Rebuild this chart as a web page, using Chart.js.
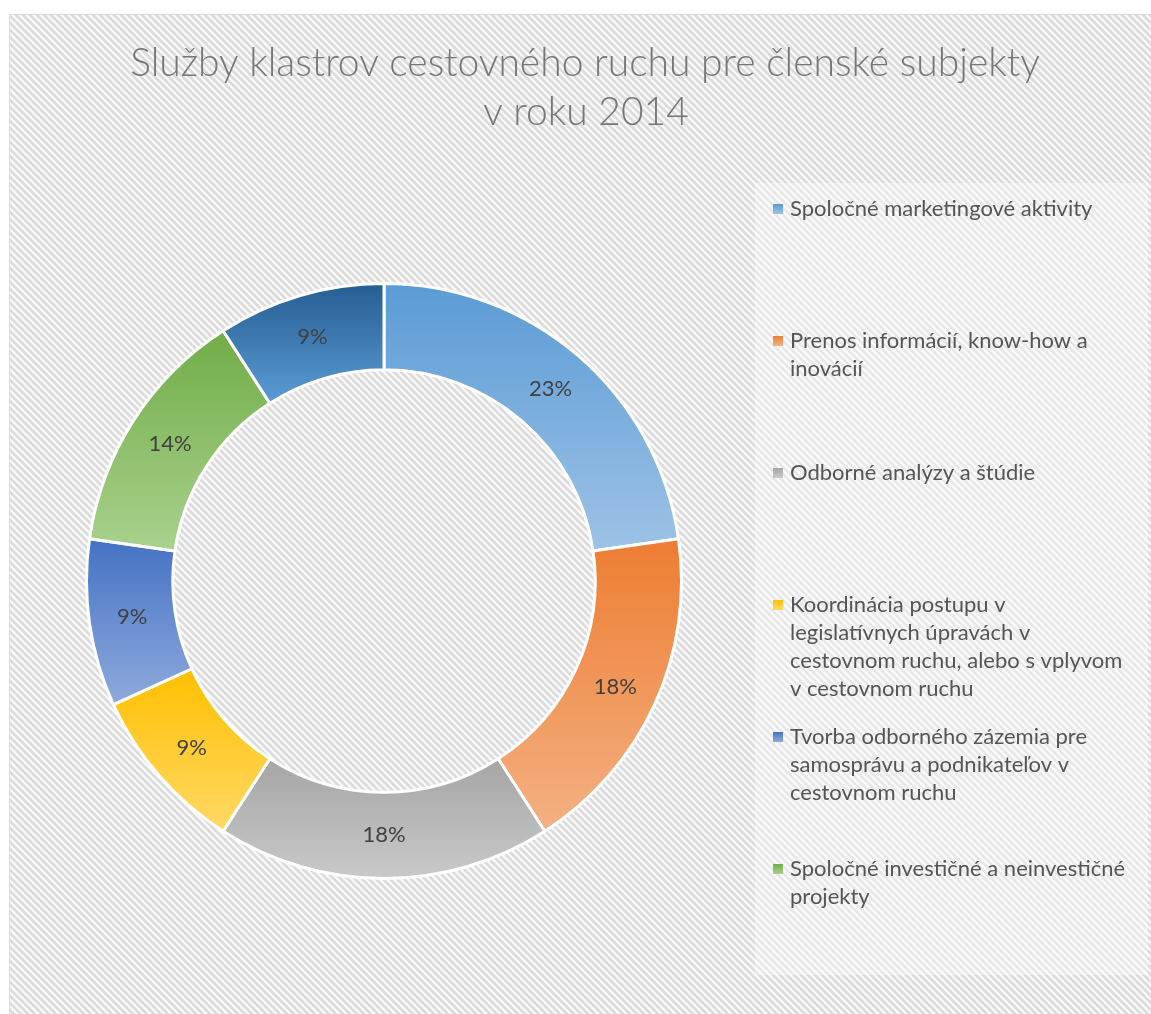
<!DOCTYPE html>
<html>
<head>
<meta charset="utf-8">
<title>Služby klastrov cestovného ruchu</title>
<script src="https://cdn.jsdelivr.net/npm/chart.js@4.4.1/dist/chart.umd.min.js"></script>
<style>
  html, body { margin: 0; padding: 0; background: #fff; }
  #wrap { position: relative; width: 1151px; height: 1014px; }
</style>
</head>
<body>
<div id="wrap"><canvas id="chart" width="1151" height="1014"></canvas></div>
<script>
// data
const titleLines = ['Služby klastrov cestovného ruchu pre členské subjekty', 'v roku 2014']
const categories = [
    ['Spoločné marketingové aktivity'],
    ['Prenos informácií, know-how a', 'inovácií'],
    ['Odborné analýzy a štúdie'],
    ['Koordinácia postupu v', 'legislatívnych úpravách v', 'cestovnom ruchu, alebo s vplyvom', 'v cestovnom ruchu'],
    ['Tvorba odborného zázemia pre', 'samosprávu a podnikateľov v', 'cestovnom ruchu'],
    ['Spoločné investičné a neinvestičné', 'projekty'],
    ['Ostatné služby']
]
const counts = [5, 4, 4, 2, 2, 3, 2]
const topColors = ['#5b9bd5', '#ed7d31', '#a5a5a5', '#ffc000', '#4472c4', '#70ad47', '#255e91']
const bottomColors = ['#9dc3e6', '#f4b183', '#c9c9c9', '#ffd966', '#8faadc', '#a9d18e', '#5b9bd5']

const total = counts.reduce((a, b) => a + b, 0)

// vertical gradient over the bounding box of one slice
function sliceGradient(context) {
    const chart = context.chart
    const i = context.dataIndex
    const area = chart.chartArea
    const ctrl = chart.getDatasetMeta(0).controller
    if (!area || !ctrl || !ctrl.outerRadius) return topColors[i]
    const cx = (area.left + area.right) / 2
    const cy = (area.top + area.bottom) / 2
    let before = 0
    for (let k = 0; k < i; k++) before += counts[k]
    const a0 = before / total * Math.PI * 2 - Math.PI / 2
    const a1 = (before + counts[i]) / total * Math.PI * 2 - Math.PI / 2
    let minY = Infinity, maxY = -Infinity
    for (let s = 0; s <= 60; s++) {
        const a = a0 + (a1 - a0) * s / 60
        for (const r of [ctrl.innerRadius, ctrl.outerRadius]) {
            const y = cy + Math.sin(a) * r
            minY = Math.min(minY, y)
            maxY = Math.max(maxY, y)
        }
    }
    const g = chart.ctx.createLinearGradient(0, minY, 0, maxY)
    g.addColorStop(0, topColors[i])
    g.addColorStop(1, bottomColors[i])
    return g
}

function stripePattern(ctx) {
    const p = 7
    const tile = document.createElement('canvas')
    tile.width = p
    tile.height = p
    const tctx = tile.getContext('2d')
    const img = tctx.createImageData(p, p)
    for (let y = 0; y < p; y++) {
        for (let x = 0; x < p; x++) {
            const k = (((x - y) % p) + p) % p
            const v = k < 3 ? 220 : (k === 3 || k === 6 ? 236 : 250)
            const o = (y * p + x) * 4
            img.data[o] = v; img.data[o + 1] = v; img.data[o + 2] = v; img.data[o + 3] = 255
        }
    }
    tctx.putImageData(img, 0, 0)
    return ctx.createPattern(tile, 'repeat')
}

const decor = {
    id: 'decor',
    beforeDraw(chart) {
        const c = chart.ctx
        c.save()
        c.fillStyle = '#fff'
        c.fillRect(0, 0, chart.width, chart.height)
        c.fillStyle = stripePattern(c)
        c.fillRect(9, 14, chart.width - 9, chart.height - 14)
        c.strokeStyle = '#d9d9d9'
        c.lineWidth = 1
        c.strokeRect(9.5, 14.5, chart.width + 20, chart.height + 20)

        // title
        c.fillStyle = '#767676'
        c.font = '300 39px Lato'
        c.textAlign = 'center'
        c.textBaseline = 'alphabetic'
        c.fillText(titleLines[0], 585, 76)
        c.fillText(titleLines[1], 586, 125)

        // legend panel
        const lx = 755, ly = 183, lw = 393, lh = 792, slotH = 132
        c.fillStyle = 'rgba(255,255,255,0.35)'
        c.fillRect(lx, ly, lw, lh)
        const slots = Math.floor(lh / slotH)
        c.font = '22px Lato'
        c.textAlign = 'left'
        c.textBaseline = 'middle'
        for (let i = 0; i < Math.min(slots, categories.length); i++) {
            const y0 = ly + 26 + i * slotH
            const g = c.createLinearGradient(0, y0 - 5, 0, y0 + 5)
            g.addColorStop(0, topColors[i])
            g.addColorStop(1, bottomColors[i])
            c.fillStyle = g
            c.fillRect(773, y0 - 5, 10, 10)
            c.fillStyle = '#555555'
            categories[i].forEach(function (line, j) {
                c.fillText(line, 790, y0 + j * 28)
            })
        }
        c.restore()
    },
    afterDatasetsDraw(chart) {
        const c = chart.ctx
        const meta = chart.getDatasetMeta(0)
        c.save()
        c.font = '22px Lato'
        c.fillStyle = '#404040'
        c.textAlign = 'center'
        c.textBaseline = 'middle'
        meta.data.forEach(function (arc, i) {
            const pos = arc.tooltipPosition()
            c.fillText(Math.round(counts[i] / total * 100) + '%', pos.x, pos.y)
        })
        c.restore()
    }
}

new Chart(document.getElementById('chart'), {
    type: 'doughnut',
    data: {
        labels: categories,
        datasets: [{
            data: counts,
            backgroundColor: sliceGradient,
            borderColor: '#ffffff',
            borderWidth: 3
        }]
    },
    options: {
        responsive: false,
        animation: false,
        cutout: '71%',
        layout: {
            padding: { left: 85, top: 282, right: 468, bottom: 134 }
        },
        plugins: {
            legend: { display: false },
            title: { display: false },
            tooltip: { enabled: false }
        }
    },
    plugins: [decor]
})
</script>
</body>
</html>
